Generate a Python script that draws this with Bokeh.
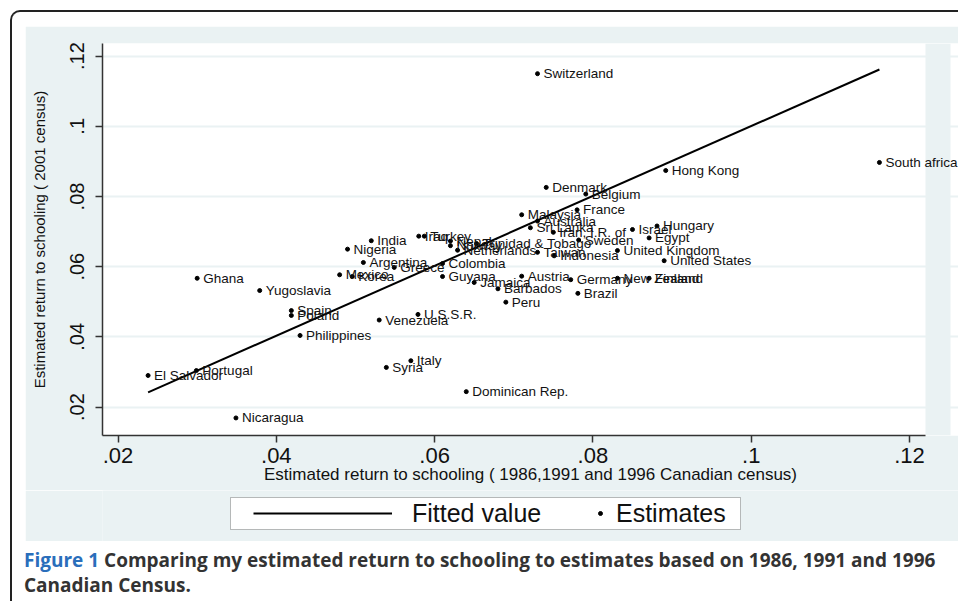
from bokeh.plotting import figure
from bokeh.layouts import column
from bokeh.models import (ColumnDataSource, LabelSet, BoxAnnotation, Legend,
                          LegendItem, FixedTicker, Range1d, Div)
from bokeh.core.properties import value
from bokeh.embed import file_html
from bokeh.resources import INLINE

# ---------------- data ----------------
countries = [
    "Switzerland", "South africa", "Hong Kong", "Denmark", "Belgium", "France",
    "Malaysia", "Australia", "Sri Lanka", "Iran, I.R. of", "Israel", "Hungary",
    "Egypt", "Sweden", "United Kingdom", "United States", "Taiwan", "Indonesia",
    "Trinidad & Tobago", "Netherlands", "Norway", "Nepal", "Turkey", "Iraq",
    "India", "Nigeria", "Argentina", "Greece", "Colombia", "Mexico", "Korea",
    "Guyana", "Ghana", "Yugoslavia", "Austria", "Jamaica", "Barbados", "Peru",
    "Germany", "New Zealand", "Finland", "Brazil", "Spain", "Poland",
    "Philippines", "Venezuela", "U.S.S.R.", "Italy", "Syria", "Portugal",
    "El Salvador", "Nicaragua", "Dominican Rep.",
]
return_1986_1996 = [
    0.0730, 0.1162, 0.0892, 0.0741, 0.0791, 0.0780,
    0.0710, 0.0730, 0.0721, 0.0750, 0.0850, 0.0881,
    0.0871, 0.0782, 0.0831, 0.0890, 0.0730, 0.0751,
    0.0653, 0.0629, 0.0620, 0.0620, 0.0587, 0.0580,
    0.0520, 0.0490, 0.0510, 0.0549, 0.0610, 0.0480, 0.0496,
    0.0610, 0.0300, 0.0379, 0.0710, 0.0650, 0.0680, 0.0690,
    0.0772, 0.0831, 0.0871, 0.0781, 0.0419, 0.0419,
    0.0430, 0.0530, 0.0579, 0.0570, 0.0539, 0.0299,
    0.0238, 0.0349, 0.0640,
]
return_2001 = [
    0.1150, 0.0897, 0.0874, 0.0826, 0.0807, 0.0762,
    0.0748, 0.0730, 0.0711, 0.0698, 0.0706, 0.0716,
    0.0682, 0.0676, 0.0646, 0.0617, 0.0641, 0.0631,
    0.0666, 0.0647, 0.0660, 0.0673, 0.0687, 0.0687,
    0.0674, 0.0650, 0.0612, 0.0598, 0.0609, 0.0577, 0.0572,
    0.0572, 0.0567, 0.0532, 0.0573, 0.0555, 0.0537, 0.0499,
    0.0563, 0.0567, 0.0567, 0.0524, 0.0475, 0.0461,
    0.0404, 0.0448, 0.0464, 0.0332, 0.0313, 0.0304,
    0.0290, 0.0169, 0.0244,
]
fit_x = [0.0238, 0.1162]
fit_y = [0.0242, 0.1162]

x_ticks = [0.02, 0.04, 0.06, 0.08, 0.1, 0.12]
x_tick_labels = [".02", ".04", ".06", ".08", ".1", ".12"]
y_ticks = [0.02, 0.04, 0.06, 0.08, 0.1, 0.12]
y_tick_labels = [".02", ".04", ".06", ".08", ".1", ".12"]

x_title = "Estimated return to schooling ( 1986,1991 and 1996 Canadian census)"
y_title = "Estimated return to schooling ( 2001 census)"
legend_labels = ["Fitted value", "Estimates"]
caption_head = "Figure 1"
caption_line1 = "Comparing my estimated return to schooling to estimates based on 1986, 1991 and 1996"
caption_line2 = "Canadian Census."

# ---------------- styling ----------------
SHADE = "#EAF2F3"
FONT = "Liberation Sans"
INK = "#111111"
X0, X1 = 0.01804, 0.12619      # frame extent (plot region edge at 0.12202)
Y0, Y1 = 0.0119, 0.1236
W = 933
ML = 77

# ---------------- main plot ----------------
p = figure(width=W, height=464, output_backend="svg", toolbar_location=None,
           x_range=Range1d(X0, X1), y_range=Range1d(Y0, Y1),
           min_border_left=ML, min_border_right=0, min_border_top=17,
           min_border_bottom=55, background_fill_color="white",
           border_fill_color=SHADE, outline_line_color=None)

# shaded strip at the right of the plot region (as in the reference)
p.add_layout(BoxAnnotation(left=0.12202, right=0.12518, bottom=Y0, top=Y1,
                           fill_color=SHADE, fill_alpha=1, line_color=None,
                           level="image"))

p.xgrid.visible = False
p.ygrid.ticker = FixedTicker(ticks=y_ticks)
p.ygrid.grid_line_color = SHADE
p.ygrid.grid_line_width = 2

for ax in (p.xaxis[0], p.yaxis[0]):
    ax.axis_line_color = "#333333"
    ax.axis_line_width = 1.5
    ax.major_tick_line_color = "#333333"
    ax.major_tick_line_width = 1.5
    ax.major_tick_out = 7
    ax.major_tick_in = 0
    ax.minor_tick_line_color = None
    ax.major_label_text_font = FONT
    ax.major_label_text_color = INK
    ax.axis_label_text_font = FONT
    ax.axis_label_text_font_style = "normal"
    ax.axis_label_text_color = INK

p.xaxis.bounds = (X0, 0.12202)
p.xaxis.ticker = FixedTicker(ticks=x_ticks)
p.xaxis.major_label_overrides = dict(zip(x_ticks, x_tick_labels))
p.xaxis.major_label_text_font_size = "22px"
p.xaxis.major_label_standoff = 5
p.xaxis.axis_label = x_title
p.xaxis.axis_label_text_font_size = "17px"
p.xaxis.axis_label_standoff = -1

p.yaxis.ticker = FixedTicker(ticks=y_ticks)
p.yaxis.major_label_overrides = dict(zip(y_ticks, y_tick_labels))
p.yaxis.major_label_text_font_size = "20px"
p.yaxis.major_label_orientation = "vertical"
p.yaxis.major_label_standoff = 11
p.yaxis.axis_label = y_title
p.yaxis.axis_label_text_font_size = "15px"
p.yaxis.axis_label_standoff = 20

src = ColumnDataSource(dict(x=return_1986_1996, y=return_2001, name=countries))
fit_r = p.line(fit_x, fit_y, line_color="black", line_width=2)
pts_r = p.scatter("x", "y", source=src, size=4, color="black")
p.add_layout(LabelSet(x="x", y="y", text="name", source=src, x_offset=6,
                      text_baseline="middle", text_font=value(FONT),
                      text_font_size="13.5px", text_color=INK))

# ---------------- legend strip (same side borders as the plot) ----------------
lg = figure(width=W, height=51, output_backend="svg", toolbar_location=None,
            x_axis_type=None, y_axis_type=None,
            x_range=Range1d(0, W - ML), y_range=Range1d(0, 51),
            min_border_left=ML, min_border_right=0, min_border_top=0,
            min_border_bottom=0, background_fill_color=SHADE,
            border_fill_color=SHADE, outline_line_color=None)
lg.grid.visible = False
lg.add_layout(BoxAnnotation(left=128, right=638, bottom=12, top=44,
                            fill_color="white", fill_alpha=1,
                            line_color="#222222", line_width=1, level="image"))
lg_line = lg.line(fit_x, fit_y, line_color="black", line_width=2, visible=False)
lg_dot = lg.scatter(return_1986_1996, return_2001, size=4, color="black",
                    visible=False)
common = dict(orientation="horizontal", padding=0, margin=0, spacing=0,
              border_line_color=None, background_fill_alpha=0,
              label_text_font=FONT, label_text_font_size="25px",
              label_text_color=INK, glyph_height=32, label_height=32)
lg.add_layout(Legend(items=[LegendItem(label=legend_labels[0], renderers=[lg_line])],
                     location=(151, 12), glyph_width=139, label_standoff=20, **common))
lg.add_layout(Legend(items=[LegendItem(label=legend_labels[1], renderers=[lg_dot])],
                     location=(493, 12), glyph_width=10, label_standoff=11, **common))

# ---------------- caption ----------------
cap_html = (
    '<div style="font-family:\'Open Sans\',sans-serif;font-weight:bold;'
    'font-size:19px;line-height:25px;color:#333333;white-space:nowrap;'
    'padding-top:7px;margin-left:-1px;">'
    f'<span style="color:#2A6EBB;">{caption_head}</span> {caption_line1}<br>'
    f'{caption_line2}</div>'
)
cp = Div(text=cap_html, width=W, height=60, margin=(0, 0, 0, 0))

root = column(p, lg, cp, spacing=0,
              styles={"margin": "10px 0 0 10px",
                      "border-top": "2px solid #222222",
                      "border-left": "2px solid #222222",
                      "border-top-left-radius": "10px",
                      "padding": "14px 0 0 13px"})

open("out.html", "w").write(file_html(root, INLINE))
